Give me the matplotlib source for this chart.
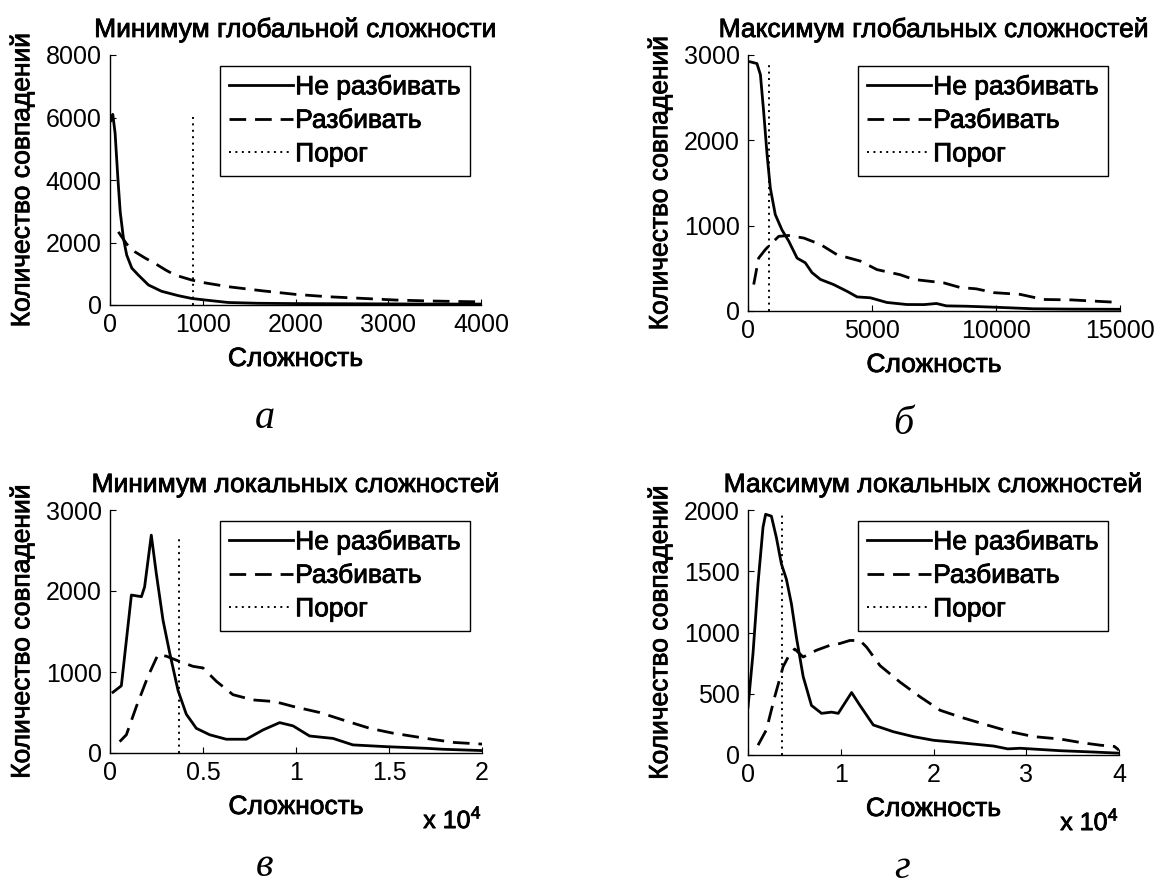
import matplotlib
matplotlib.use("Agg")
import matplotlib.pyplot as plt
import matplotlib.patheffects as pe
from matplotlib.text import Text
from matplotlib.ticker import FixedLocator, FuncFormatter

plt.rcParams["font.family"] = ["Liberation Sans", "DejaVu Sans"]
plt.rcParams["font.size"] = 18
plt.rcParams["mathtext.fontset"] = "custom"
plt.rcParams["mathtext.rm"] = "Liberation Sans"

# ---- данные ----
labels = ["Не разбивать", "Разбивать", "Порог"]
titles = ["Минимум глобальной сложности", "Максимум глобальных сложностей",
          "Минимум локальных сложностей", "Максимум локальных сложностей"]
letters = ["а", "б", "в", "г"]
xlabel = "Сложность"
ylabel = "Количество совпадений"

# а
a_x1 = [10, 30, 55, 85, 110, 145, 180, 235, 305, 415, 555, 735, 880, 1025, 1275, 1600, 2000, 2500, 3000, 3500, 4000]
a_y1 = [5900, 6100, 5500, 4050, 2980, 2130, 1600, 1180, 960, 640, 440, 300, 210, 160, 80, 55, 45, 40, 35, 30, 30]
a_x2 = [90, 180, 270, 380, 485, 600, 700, 880, 1000, 1275, 1640, 2000, 2350, 2700, 3070, 3430, 3800, 4000]
a_y2 = [2340, 1950, 1700, 1500, 1330, 1120, 960, 800, 720, 585, 455, 340, 265, 215, 160, 130, 110, 100]
a_thr = 900

# б
b_x1 = [94, 360, 500, 630, 770, 900, 1100, 1370, 1640, 1980, 2310, 2580, 2920, 3450, 4000, 4400, 4930,
        5600, 6400, 7100, 7600, 8000, 8800, 9900, 11500, 13000, 15000]
b_y1 = [2920, 2900, 2770, 2340, 1830, 1440, 1130, 950, 820, 620, 565, 450, 370, 310, 230, 165, 155,
        100, 76, 75, 88, 60, 56, 45, 26, 22, 20]
b_x2 = [230, 430, 700, 900, 1240, 1640, 2250, 2920, 3590, 4530, 5200, 6140, 6680, 7890, 8560, 9200,
        9920, 10970, 11920, 13060, 14000, 15000]
b_y2 = [310, 620, 720, 780, 875, 885, 855, 780, 660, 585, 485, 425, 370, 330, 275, 260,
        215, 195, 135, 130, 115, 100]
b_thr = 850

# в
c_x1 = [160, 610, 1150, 1690, 1860, 2220, 2490, 2850, 3210, 3660, 4100, 4640, 5360, 6250, 7330, 8230,
        9120, 9840, 10730, 11990, 13060, 14860, 17000, 17900, 20000]
c_y1 = [750, 830, 1950, 1930, 2050, 2690, 2215, 1640, 1235, 770, 480, 305, 225, 170, 170, 285,
        375, 335, 210, 180, 100, 78, 58, 46, 30]
c_x2 = [520, 880, 1420, 2040, 2580, 3030, 3745, 4460, 5000, 5720, 6610, 7690, 8850, 9840, 11270,
        12700, 13960, 15210, 17000, 18500, 20000]
c_y2 = [140, 225, 575, 945, 1215, 1195, 1130, 1070, 1050, 885, 720, 655, 635, 575, 500,
        395, 305, 245, 180, 130, 110]
c_thr = 3700

# г
d_x1 = [0, 540, 1080, 1620, 1900, 2520, 3060, 3600, 4140, 4680, 5220, 5950, 6840, 7930, 9000, 9730,
        11170, 12070, 13510, 15670, 17840, 20000, 22880, 26490, 28000, 29360, 33690, 37000, 40000]
d_y1 = [390, 830, 1400, 1860, 1965, 1950, 1775, 1560, 1435, 1235, 960, 640, 405, 340, 350, 340,
        510, 405, 245, 190, 150, 120, 100, 73, 50, 55, 35, 25, 15]
d_x2 = [1080, 1980, 2880, 3780, 4500, 5040, 5950, 7380, 8820, 9900, 10980, 12070, 12790, 14230,
        16390, 18550, 20720, 22880, 25760, 28280, 30810, 33690, 36000, 38000, 39500, 40000]
d_y2 = [80, 205, 475, 720, 825, 865, 800, 855, 895, 910, 935, 935, 880, 730,
        595, 475, 365, 310, 245, 190, 150, 130, 100, 80, 70, 40]
d_thr = 3700

a_xticks = [0, 1000, 2000, 3000, 4000]
b_xticks = [0, 5000, 10000, 15000]
c_xticks = [0, 5000, 10000, 15000, 20000]
d_xticks = [0, 10000, 20000, 30000, 40000]
a_yticks = [0, 2000, 4000, 6000, 8000]
b_yticks = [0, 1000, 2000, 3000]
c_yticks = [0, 1000, 2000, 3000]
d_yticks = [0, 500, 1000, 1500, 2000]

W, H = 1159, 885
fig = plt.figure(figsize=(W / 100, H / 100), dpi=100)
fig.patch.set_facecolor("white")
FS = 19  # подписи и заголовки
TS = 18  # цифры на осях


def fx(x):
    return x / W


def fy(y):
    return 1 - y / H


panels = [
    # данные, порог, тики, множитель x10^4, (left, top, right, bottom) в пикселях
    (a_x1, a_y1, a_x2, a_y2, a_thr, a_xticks, a_yticks, False, (110, 55, 481, 305)),
    (b_x1, b_y1, b_x2, b_y2, b_thr, b_xticks, b_yticks, False, (748, 55, 1120, 311)),
    (c_x1, c_y1, c_x2, c_y2, c_thr, c_xticks, c_yticks, True, (110, 510, 482, 753)),
    (d_x1, d_y1, d_x2, d_y2, d_thr, d_xticks, d_yticks, True, (748, 510, 1119, 755)),
]

for i, (x1, y1, x2, y2, thr, xt, yt, sci, box) in enumerate(panels):
    l, t, r, b = box
    ax = fig.add_axes([fx(l), fy(b), (r - l) / W, (b - t) / H])
    ax.plot(x1, y1, color="black", lw=2.0)
    ax.plot(x2, y2, color="black", lw=2.0, dashes=(6, 3.2))
    ax.plot([thr, thr], [0, max(y1)], color="black", lw=1.4, dashes=(1, 2.3))

    ax.set_xlim(xt[0], xt[-1])
    ax.set_ylim(yt[0], yt[-1])
    ax.xaxis.set_major_locator(FixedLocator(xt))
    ax.yaxis.set_major_locator(FixedLocator(yt))
    if sci:
        ax.xaxis.set_major_formatter(FuncFormatter(lambda v, p: f"{v / 1e4:g}"))
        fig.text(fx(r), fy(b + 67), r"x 10$^{4}$", ha="right", va="center", fontsize=TS)
    else:
        ax.xaxis.set_major_formatter(FuncFormatter(lambda v, p: f"{v:.0f}"))
    ax.yaxis.set_major_formatter(FuncFormatter(lambda v, p: f"{v:.0f}"))

    for s in ["top", "right"]:
        ax.spines[s].set_visible(False)
    for s in ["left", "bottom"]:
        ax.spines[s].set_linewidth(1.0)
    ax.tick_params(direction="in", length=4, width=0.8, pad=6, labelsize=TS)

    cx = (l + r) / 2
    fig.text(fx(cx), fy(t - 18), titles[i], ha="center", va="baseline", fontsize=FS)
    fig.text(fx(cx), fy(b + 54), xlabel, ha="center", va="center", fontsize=FS)
    fig.text(fx(l - 88), fy((t + b) / 2), ylabel, ha="center", va="center",
             rotation=90, fontsize=FS)
    fig.text(fx(cx - 31), fy(b + 123), letters[i], ha="center", va="baseline",
             family="Liberation Serif", style="italic", fontsize=29)

    leg = ax.legend(labels, loc="upper left", bbox_to_anchor=(fx(l + 110), fy(t + 11)),
                    bbox_transform=fig.transFigure, borderaxespad=0, fancybox=False,
                    edgecolor="black", framealpha=1, handlelength=2.4, handletextpad=0.1,
                    borderpad=0.35, labelspacing=0.36, fontsize=FS)
    leg.get_frame().set_linewidth(1.0)

# буквы в оригинале выглядят жирнее — немного обводим текст
for txt in fig.findobj(Text):
    if txt.get_text() and txt.get_text() not in letters:
        txt.set_path_effects([pe.withStroke(linewidth=0.6, foreground="black")])

fig.savefig("out.png", dpi=100)
